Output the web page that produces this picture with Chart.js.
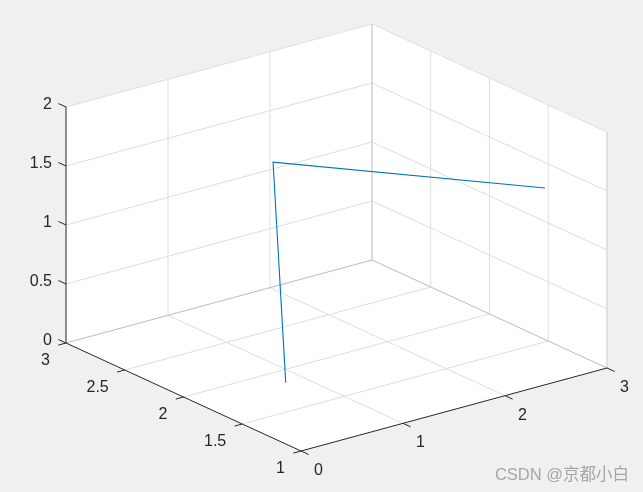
<!DOCTYPE html>
<html>
<head>
<meta charset="utf-8">
<title>plot3</title>
<script src="https://cdn.jsdelivr.net/npm/chart.js@4"></script>
<style>
    html, body { margin: 0; padding: 0; background: #f0f0f0; overflow: hidden; }
    canvas { display: block; }
</style>
</head>
<body>
<canvas id="plot" width="643" height="492"></canvas>
<script>
// --- data ---
const xTicks = [0, 1, 2, 3];
const yTicks = [1, 1.5, 2, 2.5, 3];
const zTicks = [0, 0.5, 1, 1.5, 2];
const xTickLabels = ['0', '1', '2', '3'];
const yTickLabels = ['1', '1.5', '2', '2.5', '3'];
const zTickLabels = ['0', '0.5', '1', '1.5', '2'];

const lineX = [0.5, 2, 3];
const lineY = [1.564, 2.974, 1.528];
const lineZ = [0.204, 1.075, 1.284];

const watermark = 'CSDN @京都小白';

// --- colours ---
const TEXT = '#262626';
const GRID = '#dedede';
const EDGE = '#bcbcbc';
const BLUE = '#0072BD';

const xMin = 0, xMax = 3, yMin = 1, yMax = 3, zMin = 0, zMax = 2;

// orthographic view, same as MATLAB view(3) box
function project(x, y, z) {
    return {
        x: 301 + 102 * x - 117.5 * (y - 1),
        y: 451 - 27.67 * x - 54 * (y - 1) - 118 * z
    };
}

const datasets = [];

function addLine(points, color, width) {
    datasets.push({
        data: points.map(p => project(p[0], p[1], p[2])),
        showLine: true,
        borderColor: color,
        borderWidth: width,
        pointRadius: 0,
        fill: false
    });
}

// white box behind everything
datasets.push({
    data: [
        [xMin, yMax, zMin], [xMin, yMax, zMax], [xMax, yMax, zMax], [xMax, yMin, zMax],
        [xMax, yMin, zMin], [xMin, yMin, zMin], [xMin, yMax, zMin]
    ].map(p => project(p[0], p[1], p[2])),
    showLine: true,
    borderWidth: 0,
    borderColor: 'rgba(0,0,0,0)',
    backgroundColor: '#ffffff',
    pointRadius: 0,
    fill: 'shape'
});

// grid on the floor and the two back walls
xTicks.slice(1, -1).forEach(x => {
    addLine([[x, yMin, zMin], [x, yMax, zMin], [x, yMax, zMax]], GRID, 1);
});
yTicks.slice(1, -1).forEach(y => {
    addLine([[xMin, y, zMin], [xMax, y, zMin], [xMax, y, zMax]], GRID, 1);
});
zTicks.slice(1, -1).forEach(z => {
    addLine([[xMin, yMax, z], [xMax, yMax, z], [xMax, yMin, z]], GRID, 1);
});

// top edges and right edge are light, back corner is darker
addLine([[xMin, yMax, zMax], [xMax, yMax, zMax], [xMax, yMin, zMax], [xMax, yMin, zMin]], GRID, 1);
addLine([[xMin, yMax, zMin], [xMax, yMax, zMin], [xMax, yMin, zMin]], EDGE, 1);
addLine([[xMax, yMax, zMin], [xMax, yMax, zMax]], EDGE, 1);

// axis lines
addLine([[xMin, yMin, zMin], [xMax, yMin, zMin]], TEXT, 1);
addLine([[xMin, yMin, zMin], [xMin, yMax, zMin]], TEXT, 1);
addLine([[xMin, yMax, zMin], [xMin, yMax, zMax]], TEXT, 1);

// tick marks
xTicks.forEach(x => addLine([[x, yMin, zMin], [x, yMin - 0.065, zMin]], TEXT, 1));
yTicks.forEach(y => addLine([[xMin, y, zMin], [xMin - 0.075, y, zMin]], TEXT, 1));
zTicks.forEach(z => addLine([[xMin, yMax, z], [xMin, yMax + 0.065, z]], TEXT, 1));

// the plotted line
addLine(lineX.map((x, i) => [x, lineY[i], lineZ[i]]), BLUE, 1.1);

// earlier datasets go underneath
datasets.forEach((d, i) => { d.order = datasets.length - i; });

// tick labels + watermark, positions go through the scales too
const labelPlugin = {
    id: 'labelPlugin',
    afterDatasetsDraw(chart) {
        const ctx = chart.ctx;
        const sx = chart.scales.x;
        const sy = chart.scales.y;
        const put = (text, p, dx, dy, align) => {
            ctx.textAlign = align;
            ctx.fillText(text, sx.getPixelForValue(p.x) + dx, sy.getPixelForValue(p.y) + dy);
        };

        ctx.save();
        ctx.font = '16px "Liberation Sans", Arial, sans-serif';
        ctx.fillStyle = TEXT;
        ctx.textBaseline = 'middle';
        xTicks.forEach((x, i) => put(xTickLabels[i], project(x, yMin, zMin), 17.5, 19.5, 'center'));
        yTicks.forEach((y, i) => put(yTickLabels[i], project(xMin, y, zMin), -16, 17.5, 'right'));
        zTicks.forEach((z, i) => put(zTickLabels[i], project(xMin, yMax, z), -14, -2, 'right'));

        ctx.font = '16.5px "Liberation Sans", "Noto Sans CJK SC", sans-serif';
        ctx.fillStyle = '#a6a6a6';
        ctx.textAlign = 'right';
        ctx.fillText(watermark, 629, 475);
        ctx.restore();
    }
};

new Chart(document.getElementById('plot'), {
    type: 'scatter',
    data: { datasets: datasets },
    plugins: [labelPlugin],
    options: {
        responsive: false,
        animation: false,
        layout: { padding: 0 },
        scales: {
            x: { type: 'linear', display: false, min: 0, max: 643 },
            y: { type: 'linear', display: false, min: 0, max: 492, reverse: true }
        },
        plugins: {
            legend: { display: false },
            tooltip: { enabled: false }
        }
    }
});
</script>
</body>
</html>
